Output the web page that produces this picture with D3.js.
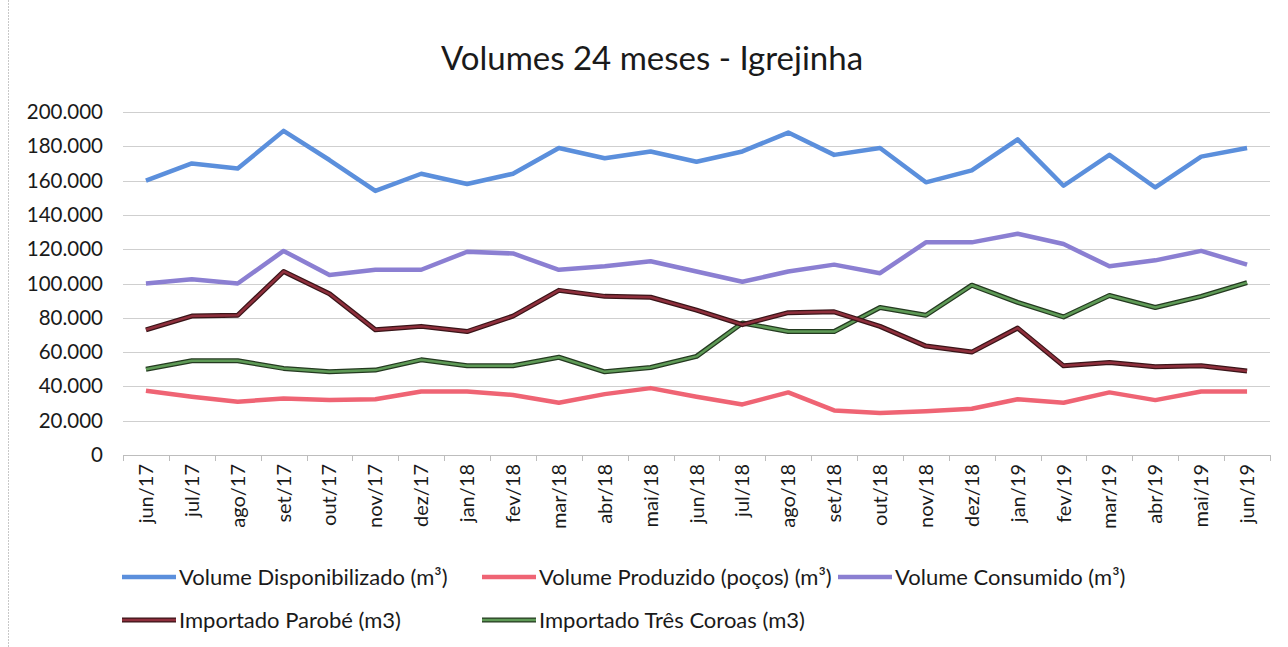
<!DOCTYPE html>
<html>
<head>
<meta charset="utf-8">
<script src="https://cdn.jsdelivr.net/npm/d3@7"></script>
<style>
  body { margin: 0; background: #fff; }
  svg { display: block; font-family: Lato, "Open Sans", sans-serif; }
</style>
</head>
<body>
<div id="chart"></div>
<script>
var months = ['jun/17','jul/17','ago/17','set/17','out/17','nov/17','dez/17','jan/18','fev/18','mar/18','abr/18','mai/18',
              'jun/18','jul/18','ago/18','set/18','out/18','nov/18','dez/18','jan/19','fev/19','mar/19','abr/19','mai/19','jun/19'];

var disponibilizado = [160000,170000,167000,189000,172000,154000,164000,158000,164000,179000,173000,177000,
                       171000,177000,188000,175000,179000,159000,166000,184000,157000,175000,156000,174000,179000];
var produzido = [37500,34000,31000,33000,32000,32500,37000,37000,35000,30500,35500,39000,
                 34000,29500,36500,26000,24500,25500,27000,32500,30500,36500,32000,37000,37000];
var consumido = [100000,102500,100000,119000,105000,108000,108000,118500,117500,108000,110000,113000,
                 107000,101000,107000,111000,106000,124000,124000,129000,123000,110000,113500,119000,111000];
var parobe = [73000,81000,81500,107000,94000,73000,75000,72000,81000,96000,92500,92000,
              84500,76000,83000,83500,75000,63500,60000,74000,52000,54000,51500,52000,49000];
var tresCoroas = [50000,55000,55000,50500,48500,49500,55500,52000,52000,57000,48500,51000,
                  57500,77000,72000,72000,86000,81500,99000,89000,80500,93000,86000,92500,100500];

var yTicks = [0,20000,40000,60000,80000,100000,120000,140000,160000,180000,200000];

var series = [
  { name: 'Volume Disponibilizado (m³)', values: disponibilizado, color: '#5b8fdc', edge: null },
  { name: 'Volume Produzido (poços) (m³)', values: produzido, color: '#ef6474', edge: null },
  { name: 'Volume Consumido (m³)', values: consumido, color: '#8b7fd2', edge: null },
  { name: 'Importado Parobé (m3)', values: parobe, color: '#8e2f3c', edge: '#3a1418' },
  { name: 'Importado Três Coroas (m3)', values: tresCoroas, color: '#5e9a56', edge: '#243a20' }
];

var width = 1288, height = 647;
var margin = { left: 123, right: 18, top: 112, bottom: 192 };

var svg = d3.select('#chart').append('svg')
    .attr('width', width)
    .attr('height', height);

svg.append('rect').attr('width', width).attr('height', height).attr('fill', '#fff');

// scan edge on the left
svg.append('line')
    .attr('x1', 8.5).attr('x2', 8.5).attr('y1', 0).attr('y2', height)
    .attr('stroke', '#c8c8c8').attr('stroke-dasharray', '2,1');

svg.append('text')
    .attr('x', 652).attr('y', 70)
    .attr('text-anchor', 'middle')
    .attr('font-size', 33)
    .attr('fill', '#1a1a1a')
    .text('Volumes 24 meses - Igrejinha');

var x = d3.scaleBand()
    .domain(months)
    .range([margin.left, width - margin.right]);

var y = d3.scaleLinear()
    .domain([0, 200000])
    .range([height - margin.bottom, margin.top]);

// gridlines
svg.append('g')
  .selectAll('line')
  .data(yTicks.filter(function(d) { return d > 0; }))
  .enter().append('line')
    .attr('x1', margin.left).attr('x2', width - margin.right)
    .attr('y1', function(d) { return Math.round(y(d)) + 0.5; })
    .attr('y2', function(d) { return Math.round(y(d)) + 0.5; })
    .attr('stroke', '#cfcfcf');

var fmt = function(d) { return d === 0 ? '0' : d3.format(',')(d).replace(/,/g, '.'); };

var yAxis = svg.append('g')
    .attr('transform', 'translate(' + (margin.left - 20) + ',0)')
    .call(d3.axisLeft(y).tickValues(yTicks).tickFormat(fmt).tickSize(0));
yAxis.select('.domain').remove();
yAxis.selectAll('text')
    .attr('font-size', 20.5)
    .attr('font-family', 'Lato, sans-serif')
    .attr('fill', '#1a1a1a')
    .attr('x', 0);

// x axis
var xAxis = svg.append('g')
    .attr('transform', 'translate(0,' + (height - margin.bottom) + ')')
    .call(d3.axisBottom(x).tickSize(0));
xAxis.select('.domain').attr('stroke', '#bdbdbd');
xAxis.selectAll('text')
    .attr('font-size', 20)
    .attr('font-family', 'Lato, sans-serif')
    .attr('fill', '#1a1a1a')
    .attr('transform', 'rotate(-90)')
    .attr('text-anchor', 'end')
    .attr('x', -9)
    .attr('y', 0)
    .attr('dy', '0.35em');

// boundary ticks
var bounds = months.map(function(m) { return x(m); }).concat([x(months[months.length - 1]) + x.bandwidth()]);
svg.append('g')
  .selectAll('line')
  .data(bounds)
  .enter().append('line')
    .attr('x1', function(d) { return Math.round(d) + 0.5; })
    .attr('x2', function(d) { return Math.round(d) + 0.5; })
    .attr('y1', height - margin.bottom)
    .attr('y2', height - margin.bottom + 6)
    .attr('stroke', '#bdbdbd');

var line = d3.line()
    .x(function(d, i) { return x(months[i]) + x.bandwidth() / 2; })
    .y(function(d) { return y(d); });

var order = [1, 0, 4, 3, 2];
order.forEach(function(k) {
  var s = series[k];
  if (s.edge) {
    svg.append('path')
        .attr('d', line(s.values))
        .attr('fill', 'none')
        .attr('stroke', s.edge)
        .attr('stroke-width', 5)
        .attr('stroke-linejoin', 'round');
  }
  svg.append('path')
      .attr('d', line(s.values))
      .attr('fill', 'none')
      .attr('stroke', s.color)
      .attr('stroke-width', s.edge ? 2.5 : 4.5)
      .attr('stroke-linejoin', 'round');
});

// legend
var legendPos = [
  { x: 122, y: 577 }, { x: 482, y: 577 }, { x: 838, y: 577 },
  { x: 122, y: 620 }, { x: 482, y: 620 }
];
var legend = svg.append('g')
  .selectAll('g')
  .data(series)
  .enter().append('g')
    .attr('transform', function(d, i) { return 'translate(' + legendPos[i].x + ',' + legendPos[i].y + ')'; });

legend.filter(function(d) { return d.edge; }).append('line')
    .attr('x1', 0).attr('x2', 54).attr('y1', 0).attr('y2', 0)
    .attr('stroke', function(d) { return d.edge; })
    .attr('stroke-width', 5);
legend.append('line')
    .attr('x1', 0).attr('x2', 54).attr('y1', 0).attr('y2', 0)
    .attr('stroke', function(d) { return d.color; })
    .attr('stroke-width', function(d) { return d.edge ? 2.5 : 4.5; });
legend.append('text')
    .attr('x', 57).attr('y', 0).attr('dy', '0.35em')
    .attr('font-size', 22)
    .attr('fill', '#1a1a1a')
    .text(function(d) { return d.name; });
</script>
</body>
</html>
